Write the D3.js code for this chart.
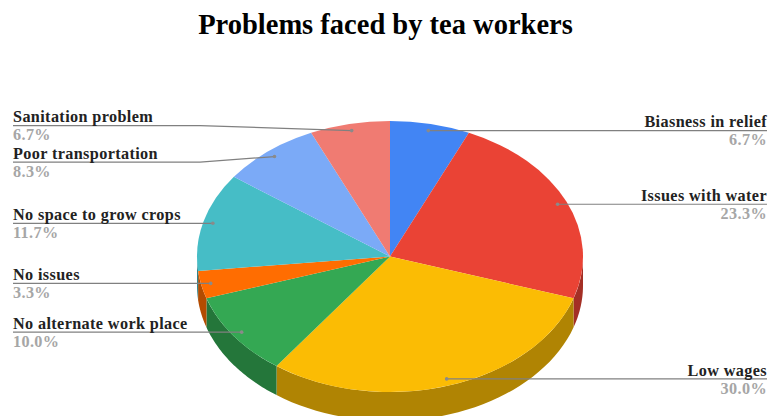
<!DOCTYPE html>
<html>
<head>
<meta charset="utf-8">
<script src="https://cdn.jsdelivr.net/npm/d3@7/dist/d3.min.js"></script>
<style>
  html, body { margin: 0; padding: 0; background: #fff; }
  svg { display: block; }
  text { font-family: "Liberation Serif", serif; font-weight: bold; }
</style>
</head>
<body>
<svg id="chart" width="769" height="416"></svg>
<script>
const categories = ["Biasness in relief", "Issues with water", "Low wages", "No alternate work place",
  "No issues", "No space to grow crops", "Poor transportation", "Sanitation problem"];
const shares = [6.7, 23.3, 30.0, 10.0, 3.3, 11.7, 8.3, 6.7];
const colors = ["#4285f4", "#ea4335", "#fbbc04", "#34a853", "#ff6d01", "#46bdc6", "#7baaf7", "#f07b72"];

// Leader lines that bend instead of running flat: vertical shift of the text rail from the anchor.
const railShift = { "Poor transportation": 5.5, "Sanitation problem": -5 };

const cx = 390, cy = 256.5, rx = 193, ry = 135.5, depth = 29;
const railLeft = 13, railRight = 767, elbowX = 200;

const svg = d3.select("#chart");

svg.append("text")
  .attr("x", 385.5).attr("y", 34)
  .attr("text-anchor", "middle")
  .attr("font-size", 28.5)
  .attr("fill", "#000")
  .text("Problems faced by tea workers");

const slices = d3.pie().sort(null).value(d => d)(shares);
slices.forEach((s, i) => { s.name = categories[i]; s.color = colors[i]; });

// Tilted disc: clockwise angle from twelve o'clock mapped on to the ellipse.
const project = (a, k = 1, dy = 0) => [cx + k * rx * Math.sin(a), cy - k * ry * Math.cos(a) + dy];

const shade = hex => {
  const c = d3.rgb(hex);
  return d3.rgb(c.r * 0.7, c.g * 0.7, c.b * 0.7).formatHex();
};

// Rim of the disc: only the part of each slice facing the viewer (lower half).
const rim = svg.append("g");
const line = d3.line();
slices.forEach(s => {
  const a0 = Math.max(s.startAngle, Math.PI / 2);
  const a1 = Math.min(s.endAngle, 3 * Math.PI / 2);
  if (a1 <= a0) return;
  const steps = d3.range(0, 41).map(t => a0 + (a1 - a0) * t / 40);
  const pts = steps.map(a => project(a)).concat(steps.slice().reverse().map(a => project(a, 1, depth)));
  rim.append("path")
    .attr("d", line(pts) + "Z")
    .attr("fill", shade(s.color))
    .attr("stroke", "none");
});

// Top face: circular arcs squashed vertically.
const arc = d3.arc().innerRadius(0).outerRadius(rx);
svg.append("g")
  .attr("transform", `translate(${cx},${cy}) scale(1,${ry / rx})`)
  .selectAll("path")
  .data(slices)
  .join("path")
  .attr("d", arc)
  .attr("fill", d => d.color);

// Leader lines and labels.
const labels = svg.append("g");
slices.forEach(s => {
  const mid = (s.startAngle + s.endAngle) / 2;
  const [ax, ay] = project(mid, 0.95);
  const onRight = mid < Math.PI;
  const railY = ay + (railShift[s.name] || 0);
  const railX = onRight ? railRight : railLeft;
  const pts = railY === ay ? [[ax, ay], [railX, railY]] : [[ax, ay], [elbowX, railY], [railX, railY]];

  labels.append("path")
    .attr("d", line(pts))
    .attr("fill", "none")
    .attr("stroke", "#808080")
    .attr("stroke-width", 1.2);
  labels.append("circle")
    .attr("cx", ax).attr("cy", ay).attr("r", 1.8)
    .attr("fill", "#8a8a8a");

  const anchor = onRight ? "end" : "start";
  labels.append("text")
    .attr("x", railX).attr("y", railY - 3.4)
    .attr("text-anchor", anchor)
    .attr("font-size", 16.2)
    .attr("letter-spacing", 0.38)
    .attr("fill", "#222")
    .text(s.name);
  labels.append("text")
    .attr("x", railX).attr("y", railY + 14.6)
    .attr("text-anchor", anchor)
    .attr("font-size", 16.2)
    .attr("letter-spacing", 0.38)
    .attr("fill", "#a6a6a6")
    .text(s.value.toFixed(1) + "%");
});
</script>
</body>
</html>
